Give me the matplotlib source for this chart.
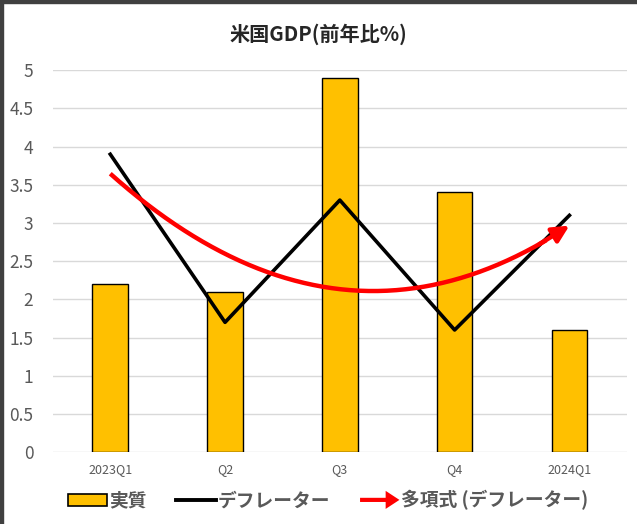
import numpy as np
import matplotlib.pyplot as plt
from matplotlib.patches import FancyArrow, Patch, Rectangle
from matplotlib.lines import Line2D
from matplotlib.legend_handler import HandlerPatch

plt.rcParams['font.family'] = ['Noto Sans CJK JP', 'DejaVu Sans']

quarters = ['2023Q1', 'Q2', 'Q3', 'Q4', '2024Q1']
real_gdp = [2.2, 2.1, 4.9, 3.4, 1.6]      # 実質
deflator = [3.9, 1.7, 3.3, 1.6, 3.1]      # デフレーター
yticks = [0, 0.5, 1, 1.5, 2, 2.5, 3, 3.5, 4, 4.5, 5]
ytick_labels = ['0', '0.5', '1', '1.5', '2', '2.5', '3', '3.5', '4', '4.5', '5']

gold = '#ffc000'
txt = '#595959'


class ArrowHandler(HandlerPatch):
    def create_artists(self, legend, orig_handle, xdescent, ydescent,
                       width, height, fontsize, trans):
        y = height / 2 - ydescent
        a = FancyArrow(-xdescent, y, width, 0, width=3.0,
                       head_width=height * 1.6, head_length=width * 0.35,
                       length_includes_head=True, color='red', lw=0)
        a.set_transform(trans)
        return [a]


fig = plt.figure(figsize=(6.37, 5.24), dpi=100)
ax = fig.add_axes([0.083, 0.137, 0.901, 0.729])

x = np.arange(len(quarters))
ax.bar(x, real_gdp, width=0.31, color=gold, edgecolor='black', linewidth=1.0, zorder=2)
ax.plot(x, deflator, color='black', lw=2.6, zorder=3, clip_on=False)

# 2nd order polynomial trend of the deflator (like the Excel trendline)
coef = np.polyfit(x, deflator, 2)
xs = np.linspace(x[0], x[-1], 200)
ys = np.polyval(coef, xs)
ax.plot(xs[:-10], ys[:-10], color='red', lw=3.2, zorder=4, solid_capstyle='butt')
ax.annotate('', xy=(xs[-1], ys[-1]), xytext=(xs[-14], ys[-14]),
            arrowprops=dict(arrowstyle='-|>,head_length=1.0,head_width=0.5',
                            color='red', lw=3.2, shrinkA=0, shrinkB=0), zorder=4)

ax.set_xlim(-0.5, len(quarters) - 0.5)
ax.set_ylim(0, 5)
ax.set_yticks(yticks)
ax.set_yticklabels(ytick_labels, fontsize=12.5, color=txt)
ax.set_xticks(x)
ax.set_xticklabels(quarters, fontsize=9, color=txt)
ax.tick_params(length=0)
ax.tick_params(axis='y', pad=14)
ax.tick_params(axis='x', pad=8)
ax.grid(axis='y', color='#d9d9d9', lw=1.0, zorder=0)
ax.set_axisbelow(True)
for s in ax.spines.values():
    s.set_visible(False)

fig.text(0.50, 0.935, '米国GDP(前年比%)', ha='center', va='center',
         fontsize=14.5, fontweight='bold', color='#262626')

handles = [Patch(facecolor=gold, edgecolor='black', lw=1.2),
           Line2D([], [], color='black', lw=2.8),
           Patch(color='red')]
labels = ['実質', 'デフレーター', '多項式 (デフレーター)']
fig.legend(handles, labels, loc='center', bbox_to_anchor=(0.515, 0.045), ncol=3,
           frameon=False, prop={'size': 13.5, 'weight': 'bold'},
           handlelength=2.1, handleheight=0.55,
           handletextpad=0.1, columnspacing=1.6,
           handler_map={handles[2]: ArrowHandler()},
           labelcolor=txt)

# window border on the top and left
fig.patches.append(Rectangle((0, 0), 0.004, 1, transform=fig.transFigure,
                             color='#404040', zorder=10))
fig.patches.append(Rectangle((0, 0.994), 1, 0.006, transform=fig.transFigure,
                             color='#404040', zorder=10))

fig.savefig('out.png', dpi=100)
